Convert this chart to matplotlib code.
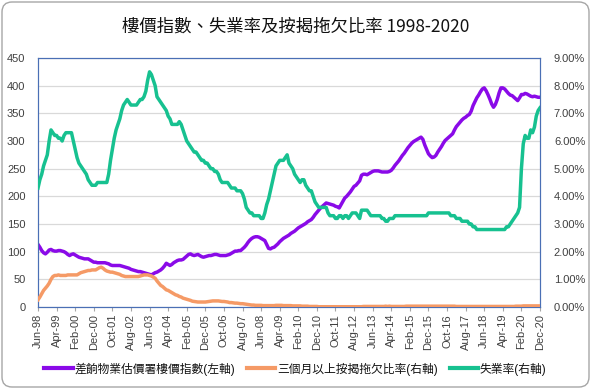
import numpy as np
import matplotlib
matplotlib.use('Agg')
import matplotlib.pyplot as plt
from matplotlib.patches import FancyBboxPatch
from matplotlib.lines import Line2D
from matplotlib.ticker import FuncFormatter, MultipleLocator

plt.rcParams['font.family'] = ['Liberation Sans', 'Noto Sans CJK TC', 'DejaVu Sans']

title = '樓價指數、失業率及按揭拖欠比率 1998-2020'
series_names = ['差餉物業估價署樓價指數(左軸)', '三個月以上按揭拖欠比率(右軸)', '失業率(右軸)']
series_colors = ['#8A0AE8', '#F59A66', '#17C190']

tick_labels = ['Jun-98', 'Apr-99', 'Feb-00', 'Dec-00', 'Oct-01', 'Aug-02', 'Jun-03',
               'Apr-04', 'Feb-05', 'Dec-05', 'Oct-06', 'Aug-07', 'Jun-08', 'Apr-09',
               'Feb-10', 'Dec-10', 'Oct-11', 'Aug-12', 'Jun-13', 'Apr-14', 'Feb-15',
               'Dec-15', 'Oct-16', 'Aug-17', 'Jun-18', 'Apr-19', 'Feb-20', 'Dec-20']

# Monthly values, Jun-1998 .. Dec-2020 (one row per year)
price_index = (
    [113, 108, 102, 98, 96, 99, 103] +
    [104, 102, 101, 101, 102, 102, 101, 100, 98, 95, 93, 95] +
    [96, 94, 92, 90, 89, 88, 87, 87, 87, 85, 83, 81] +
    [81, 80, 80, 80, 80, 80, 79, 78, 76, 75, 75, 75] +
    [75, 75, 74, 73, 72, 71, 70, 68, 67, 66, 65, 64] +
    [64, 63, 62, 61, 60, 59, 58, 60, 62, 63, 65, 67] +
    [70, 74, 79, 77, 75, 77, 80, 82, 84, 85, 85, 86] +
    [89, 92, 95, 96, 94, 93, 94, 95, 93, 91, 90, 91] +
    [92, 93, 93, 94, 95, 95, 94, 93, 93, 93, 93, 94] +
    [95, 97, 99, 101, 101, 102, 102, 105, 108, 112, 117, 121] +
    [124, 126, 127, 127, 126, 124, 122, 120, 113, 106, 105, 107] +
    [108, 111, 114, 118, 121, 124, 126, 128, 130, 133, 135, 137] +
    [140, 143, 145, 147, 149, 151, 154, 156, 158, 162, 167, 171] +
    [175, 179, 182, 185, 188, 187, 186, 185, 184, 182, 181, 179] +
    [185, 191, 197, 200, 204, 208, 213, 218, 220, 224, 228, 238] +
    [240, 240, 239, 241, 243, 245, 246, 246, 246, 245, 244, 244] +
    [244, 244, 245, 247, 251, 256, 260, 264, 269, 274, 278, 283] +
    [288, 292, 296, 299, 301, 303, 305, 307, 303, 293, 285, 277] +
    [273, 270, 271, 274, 280, 285, 290, 296, 301, 304, 307, 310] +
    [313, 320, 326, 330, 334, 338, 341, 343, 346, 348, 354, 364] +
    [371, 378, 383, 389, 394, 396, 391, 384, 376, 367, 361, 366] +
    [375, 387, 396, 396, 394, 390, 386, 383, 382, 379, 376, 373] +
    [378, 384, 384, 386, 385, 383, 381, 380, 381, 380, 379, 379]
)

delinquency_pct = (
    [0.26, 0.36, 0.48, 0.60, 0.68, 0.76, 0.86] +
    [1.00, 1.10, 1.14, 1.14, 1.16, 1.14, 1.14, 1.14, 1.14, 1.16, 1.16, 1.16] +
    [1.16, 1.16, 1.16, 1.20, 1.24, 1.26, 1.28, 1.30, 1.32, 1.32, 1.34, 1.34] +
    [1.34, 1.38, 1.42, 1.44, 1.40, 1.34, 1.30, 1.28, 1.26, 1.26, 1.24, 1.22] +
    [1.20, 1.18, 1.14, 1.12, 1.10, 1.10, 1.10, 1.10, 1.10, 1.10, 1.10, 1.10] +
    [1.12, 1.14, 1.16, 1.16, 1.16, 1.14, 1.12, 1.08, 1.04, 0.94, 0.86, 0.78] +
    [0.74, 0.68, 0.62, 0.60, 0.56, 0.52, 0.48, 0.44, 0.42, 0.38, 0.36, 0.32] +
    [0.30, 0.28, 0.26, 0.24, 0.21, 0.20, 0.19, 0.18, 0.18, 0.18, 0.18, 0.18] +
    [0.19, 0.20, 0.21, 0.22, 0.22, 0.22, 0.22, 0.21, 0.20, 0.20, 0.19, 0.18] +
    [0.16, 0.16, 0.15, 0.14, 0.14, 0.13, 0.12, 0.12, 0.11, 0.10, 0.09, 0.08] +
    [0.07, 0.07, 0.06, 0.06, 0.06, 0.06, 0.05, 0.05, 0.05, 0.05, 0.05, 0.05] +
    [0.05, 0.06, 0.06, 0.06, 0.06, 0.05, 0.05, 0.05, 0.05, 0.05, 0.04, 0.04] +
    [0.04, 0.04, 0.04, 0.03, 0.03, 0.03, 0.03, 0.02, 0.02, 0.02, 0.02, 0.02] +
    [0.01, 0.01, 0.01, 0.01, 0.01, 0.01, 0.01, 0.01, 0.01, 0.01, 0.01, 0.01] +
    [0.01, 0.01, 0.01, 0.01, 0.01, 0.01, 0.01, 0.01, 0.01, 0.01, 0.01, 0.01] +
    [0.02, 0.02, 0.02, 0.02, 0.02, 0.02, 0.02, 0.02, 0.02, 0.02, 0.02, 0.02] +
    [0.03, 0.02, 0.03, 0.02, 0.02, 0.02, 0.02, 0.02, 0.02, 0.02, 0.02, 0.03] +
    [0.03, 0.03, 0.03, 0.03, 0.03, 0.03, 0.03, 0.03, 0.03, 0.03, 0.03, 0.03] +
    [0.03, 0.03, 0.03, 0.03, 0.03, 0.03, 0.03, 0.03, 0.03, 0.03, 0.03, 0.03] +
    [0.03, 0.03, 0.02, 0.02, 0.02, 0.02, 0.02, 0.02, 0.02, 0.02, 0.02, 0.02] +
    [0.02, 0.02, 0.02, 0.02, 0.02, 0.02, 0.02, 0.02, 0.02, 0.02, 0.02, 0.02] +
    [0.02, 0.02, 0.02, 0.02, 0.02, 0.02, 0.02, 0.02, 0.02, 0.02, 0.03, 0.03] +
    [0.03, 0.03, 0.04, 0.04, 0.04, 0.04, 0.04, 0.04, 0.04, 0.04, 0.04, 0.04]
)

unemployment_pct = (
    [4.3, 4.6, 4.8, 5.1, 5.3, 5.5, 6.0] +
    [6.4, 6.3, 6.2, 6.2, 6.1, 6.1, 6.0, 6.2, 6.3, 6.3, 6.3, 6.3] +
    [6.0, 5.7, 5.4, 5.2, 5.1, 5.0, 4.9, 4.8, 4.6, 4.5, 4.4, 4.4] +
    [4.4, 4.5, 4.5, 4.5, 4.5, 4.5, 4.5, 4.8, 5.3, 5.7, 6.1, 6.4] +
    [6.6, 6.8, 7.1, 7.3, 7.4, 7.5, 7.4, 7.3, 7.3, 7.3, 7.3, 7.4] +
    [7.5, 7.5, 7.6, 7.8, 8.2, 8.5, 8.4, 8.2, 8.0, 7.6, 7.5, 7.4] +
    [7.3, 7.2, 7.1, 6.9, 6.8, 6.6, 6.6, 6.6, 6.6, 6.7, 6.6, 6.4] +
    [6.2, 6.0, 5.9, 5.8, 5.7, 5.6, 5.6, 5.5, 5.4, 5.3, 5.3, 5.2] +
    [5.2, 5.1, 5.0, 5.0, 4.9, 4.9, 4.8, 4.6, 4.5, 4.5, 4.5, 4.5] +
    [4.4, 4.3, 4.3, 4.3, 4.2, 4.2, 4.2, 4.1, 3.9, 3.6, 3.5, 3.4] +
    [3.4, 3.3, 3.3, 3.3, 3.3, 3.2, 3.2, 3.4, 3.7, 3.9, 4.2, 4.5] +
    [4.8, 5.1, 5.2, 5.3, 5.3, 5.3, 5.4, 5.5, 5.2, 5.1, 5.0, 4.8] +
    [4.7, 4.6, 4.5, 4.6, 4.6, 4.4, 4.3, 4.2, 4.2, 4.0, 3.8, 3.7] +
    [3.6, 3.6, 3.6, 3.6, 3.6, 3.4, 3.3, 3.3, 3.3, 3.2, 3.2, 3.3] +
    [3.3, 3.2, 3.3, 3.3, 3.2, 3.3, 3.4, 3.4, 3.4, 3.3, 3.2, 3.5] +
    [3.5, 3.5, 3.5, 3.4, 3.3, 3.3, 3.3, 3.3, 3.3, 3.3, 3.2, 3.2] +
    [3.1, 3.1, 3.2, 3.2, 3.2, 3.3, 3.3, 3.3, 3.3, 3.3, 3.3, 3.3] +
    [3.3, 3.3, 3.3, 3.3, 3.3, 3.3, 3.3, 3.3, 3.3, 3.3, 3.3, 3.4] +
    [3.4, 3.4, 3.4, 3.4, 3.4, 3.4, 3.4, 3.4, 3.4, 3.4, 3.4, 3.3] +
    [3.3, 3.3, 3.2, 3.2, 3.2, 3.1, 3.1, 3.1, 3.1, 3.0, 3.0, 2.9] +
    [2.9, 2.8, 2.8, 2.8, 2.8, 2.8, 2.8, 2.8, 2.8, 2.8, 2.8, 2.8] +
    [2.8, 2.8, 2.8, 2.8, 2.8, 2.9, 2.9, 3.0, 3.1, 3.2, 3.3, 3.4] +
    [3.6, 5.0, 5.9, 6.2, 6.1, 6.1, 6.4, 6.3, 6.5, 6.9, 7.1, 7.2]
)

n = len(price_index)
x = np.arange(n)

W, H = 591, 389
fig = plt.figure(figsize=(W / 100, H / 100), dpi=100)

# chart-area rounded border
border = FancyBboxPatch((2 / W, 2 / H), 1 - 4 / W, 1 - 4 / H,
                        boxstyle='round,pad=0,rounding_size=0.017',
                        mutation_aspect=W / H, transform=fig.transFigure,
                        facecolor='white', edgecolor='#A6A6A6', linewidth=1.0,
                        zorder=-10)
fig.patches.append(border)

ax = fig.add_axes([38 / W, (H - 307) / H, 502 / W, 249 / H])
ax.set_facecolor('none')
ax2 = ax.twinx()

lw = 2.5
ax.plot(x, price_index, color=series_colors[0], lw=lw, solid_joinstyle='round', zorder=3)
ax2.plot(x, delinquency_pct, color=series_colors[1], lw=lw, solid_joinstyle='round', zorder=3)
ax2.plot(x, unemployment_pct, color=series_colors[2], lw=lw, solid_joinstyle='round', zorder=4)

ax.set_xlim(0, n - 1)
ax.set_ylim(0, 450)
ax2.set_ylim(0, 9)
ax.yaxis.set_major_locator(MultipleLocator(50))
ax2.yaxis.set_major_locator(MultipleLocator(1))
ax2.yaxis.set_major_formatter(FuncFormatter(lambda v, p: f'{v:.2f}%'))

ax.yaxis.grid(True, color='#D9D9D9', lw=0.9)
ax.set_axisbelow(True)

ax.set_xticks(x[::10])
ax.set_xticklabels(tick_labels, rotation=90, fontsize=8, color='#404040')
ax.tick_params(axis='x', direction='out', length=3, width=0.8, color='#A6A6A6', pad=2)
ax.tick_params(axis='y', length=0, pad=9, labelsize=8, labelcolor='#404040')
ax2.tick_params(axis='y', length=0, pad=10, labelsize=8, labelcolor='#404040')

for a in (ax, ax2):
    for s in a.spines.values():
        s.set_color('#4A6FB5')
        s.set_linewidth(0.8)

fig.text(0.5, 1 - 27 / H, title, ha='center', va='center', fontsize=12.5, color='#111111',
         family=['Noto Sans CJK TC', 'DejaVu Sans'])

handles = [Line2D([0], [0], color=c, lw=3) for c in series_colors]
fig.legend(handles, series_names, loc='center', bbox_to_anchor=(0.5, 1 - 369 / H),
           ncol=3, frameon=False, fontsize=8.5, handlelength=2.4, handletextpad=0.15,
           columnspacing=1.0, labelcolor='#111111')

fig.savefig('out.png', dpi=100)
